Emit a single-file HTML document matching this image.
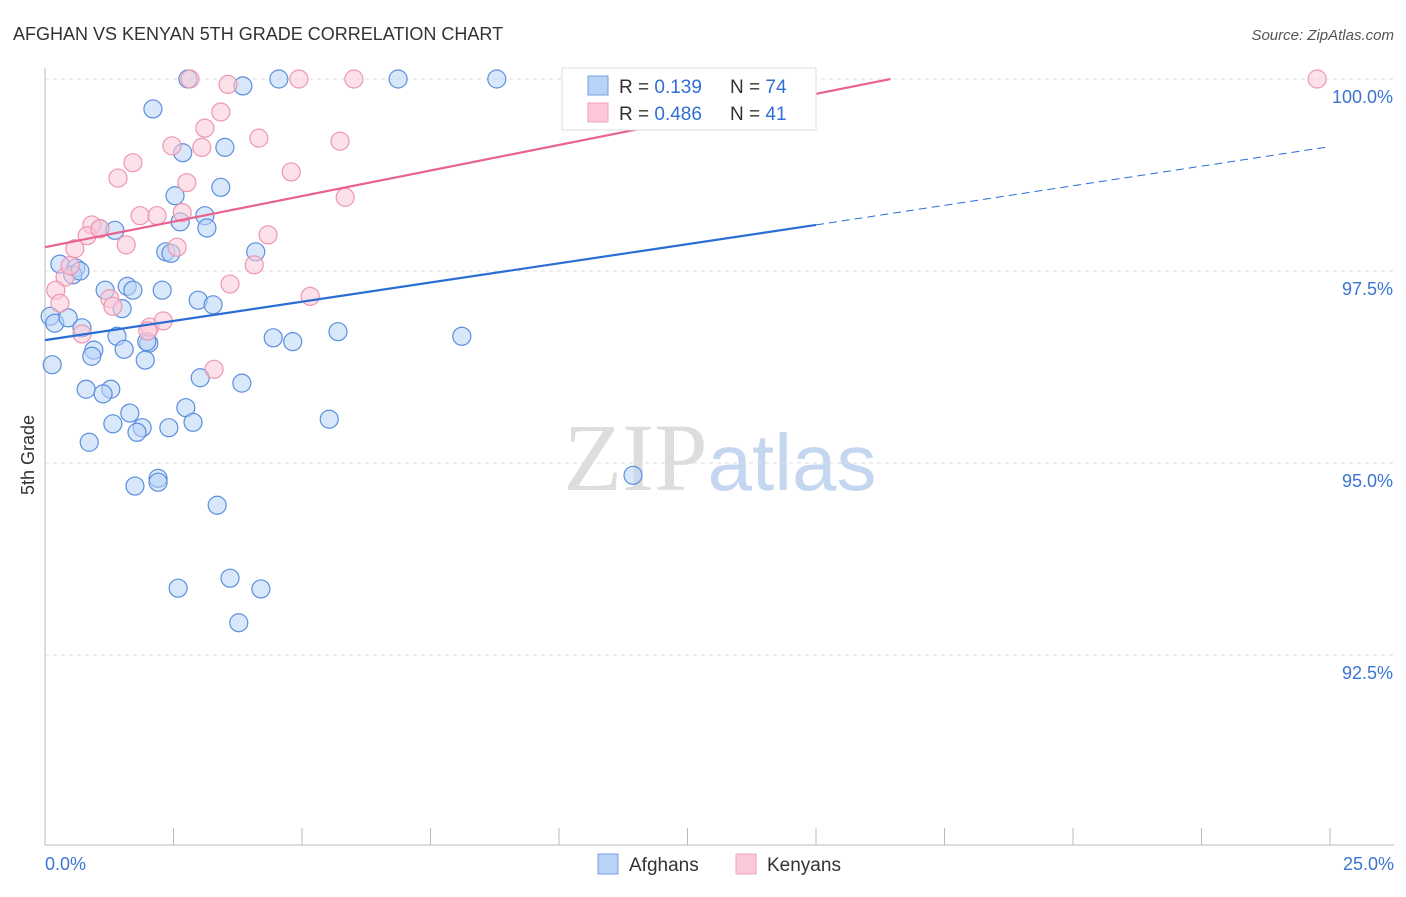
<!DOCTYPE html>
<html><head><meta charset="utf-8"><style>
body{margin:0;background:#fff;font-family:"Liberation Sans",sans-serif}
</style></head><body>
<svg id="chart" width="1406" height="892" xmlns="http://www.w3.org/2000/svg" style="font-family:'Liberation Sans',sans-serif">
<text x="13" y="40" font-size="18" fill="#333">AFGHAN VS KENYAN 5TH GRADE CORRELATION CHART</text>
<text x="1394" y="40" font-size="15" fill="#555" text-anchor="end" font-style="italic">Source: ZipAtlas.com</text>
<text transform="translate(34,455) rotate(-90)" font-size="18" fill="#333" text-anchor="middle">5th Grade</text>
<text x="720" y="490" font-size="96" text-anchor="middle" fill="#ddd" font-family="'Liberation Serif',serif">ZIP<tspan fill="#c5d7f0" font-family="'Liberation Sans',sans-serif" font-size="80">atlas</tspan></text>
<g id="grid"></g><g id="axes"></g><g id="pts"></g><g id="lines"></g>
<g>
<rect x="562" y="68" width="254" height="62" fill="#fff" stroke="#ddd"/>
<rect x="588" y="76" width="20" height="19" fill="#b8d3f5" stroke="#6f9fe0"/>
<rect x="588" y="103" width="20" height="19" fill="#fbc8d7" stroke="#f0a0b8"/>
<text x="619" y="93" font-size="19" fill="#333">R = <tspan fill="#2f6fd6"> 0.139</tspan><tspan x="730">N = </tspan><tspan fill="#2f6fd6">74</tspan></text>
<text x="619" y="120" font-size="19" fill="#333">R = <tspan fill="#2f6fd6">0.486</tspan><tspan x="730">N = </tspan><tspan fill="#2f6fd6"> 41</tspan></text>
</g>
<g>
<rect x="598" y="854" width="20" height="20" fill="#b8d3f5" stroke="#6f9fe0"/>
<text x="629" y="871" font-size="19" fill="#333">Afghans</text>
<rect x="736" y="854" width="20" height="20" fill="#fbc8d7" stroke="#f0a0b8"/>
<text x="767" y="871" font-size="19" fill="#333">Kenyans</text>
</g>
</svg>
<script>
const yTicks=[100,97.5,95,92.5];
const yTickLabels=["100.0%","97.5%","95.0%","92.5%"];
const xTickLabels=["0.0%","25.0%"];
const afghanX=[2.78,3.85,4.55,6.87,8.79,2.10,2.68,3.50,3.42,2.53,3.11,2.63,3.15,1.07,1.36,2.35,2.45,4.10,0.29,0.60,0.54,0.68,1.60,1.17,1.71,2.28,2.98,3.27,1.50,0.10,0.19,0.45,0.72,1.40,2.02,1.98,4.44,4.82,5.70,8.11,0.14,0.95,0.91,1.54,1.95,0.80,1.28,1.13,3.02,3.83,1.65,2.74,1.32,1.89,1.79,2.41,2.88,5.53,0.86,2.20,2.20,1.75,11.44,3.35,2.59,3.60,4.20,3.77,10.33];
const afghanY=[100,99.91,100,100,100,99.61,99.04,99.11,98.59,98.48,98.22,98.14,98.06,98.05,98.03,97.75,97.73,97.75,97.59,97.54,97.45,97.50,97.30,97.25,97.25,97.25,97.12,97.06,97.01,96.91,96.82,96.89,96.76,96.65,96.56,96.58,96.63,96.58,96.71,96.65,96.28,96.47,96.39,96.48,96.34,95.96,95.96,95.90,96.11,96.04,95.65,95.72,95.51,95.46,95.40,95.46,95.53,95.57,95.27,94.80,94.75,94.70,94.84,94.45,93.37,93.50,93.36,92.92,100];
const kenyanX=[2.82,3.56,4.94,6.01,24.75,10.37,3.42,3.11,2.47,3.05,4.16,5.74,1.71,1.42,2.76,4.79,5.84,2.67,1.85,2.18,0.91,0.82,1.58,4.34,2.57,0.58,4.07,3.60,0.39,0.21,0.29,1.26,1.32,5.16,2.04,2.30,2.00,0.72,3.29,0.49,1.07];
const kenyanY=[100,99.93,100,100,100,100,99.57,99.36,99.13,99.11,99.23,99.19,98.91,98.71,98.65,98.79,98.46,98.26,98.22,98.22,98.10,97.96,97.84,97.97,97.81,97.79,97.58,97.33,97.42,97.25,97.08,97.14,97.04,97.17,96.77,96.85,96.72,96.68,96.22,97.57,98.05];
const blueTrend=[[0,96.6],[15,98.1],[25,99.12]];
const pinkTrend=[[0,97.81],[16.45,100]];
const NS="http://www.w3.org/2000/svg";
const X=v=>45+v/25*1285, Y=v=>79+(100-v)/2.5*192;
function mk(t,a,p){const e=document.createElementNS(NS,t);for(const k in a)e.setAttribute(k,a[k]);document.getElementById(p).appendChild(e);return e;}
yTicks.forEach((t,i)=>{const g=mk('line',{x1:45,x2:1394,y1:Y(t),y2:Y(t),stroke:'#ddd','stroke-dasharray':'4,4'},'grid');


const l=mk('text',{x:1393,y:Y(t)+24,'font-size':18,fill:'#3b74d4','text-anchor':'end'},'axes');l.textContent=yTickLabels[i];

});
const ax=mk('line',{x1:45,x2:45,y1:68,y2:845,stroke:'#bbb'},'axes');


const bx=mk('line',{x1:45,x2:1394,y1:845,y2:845,stroke:'#bbb'},'axes');


for(let i=0;i<=10;i++){const t=mk('line',{x1:X(i*2.5),x2:X(i*2.5),y1:828,y2:845,stroke:'#bbb'},'axes');

}
[[0,'start',45],[25,'end',1394]].forEach((d,i)=>{const l=mk('text',{x:d[2],y:870,'font-size':18,fill:'#3b74d4','text-anchor':d[1]},'axes');l.textContent=xTickLabels[i];

});
function pts(xs,ys,f,s,n){xs.forEach((x,i)=>{const c=mk('circle',{cx:X(x),cy:Y(ys[i]),r:9,fill:f,'fill-opacity':0.55,stroke:s,'stroke-width':1.2},'pts');

});}
pts(afghanX,afghanY,'#b8d3f5','#5b8fdd','afghan-point');
pts(kenyanX,kenyanY,'#fbc8d7','#ee96b1','kenyan-point');
const b1=mk('line',{x1:X(blueTrend[0][0]),y1:Y(blueTrend[0][1]),x2:X(blueTrend[1][0]),y2:Y(blueTrend[1][1]),stroke:'#2a6dd6','stroke-width':2.2},'lines');


const b2=mk('line',{x1:X(blueTrend[1][0]),y1:Y(blueTrend[1][1]),x2:X(blueTrend[2][0]),y2:Y(blueTrend[2][1]),stroke:'#2a6dd6','stroke-width':1,'stroke-dasharray':'8,5'},'lines');


const p1=mk('line',{x1:X(pinkTrend[0][0]),y1:Y(pinkTrend[0][1]),x2:X(pinkTrend[1][0]),y2:Y(pinkTrend[1][1]),stroke:'#e8648f','stroke-width':2.2},'lines');


</script>
</body></html>
